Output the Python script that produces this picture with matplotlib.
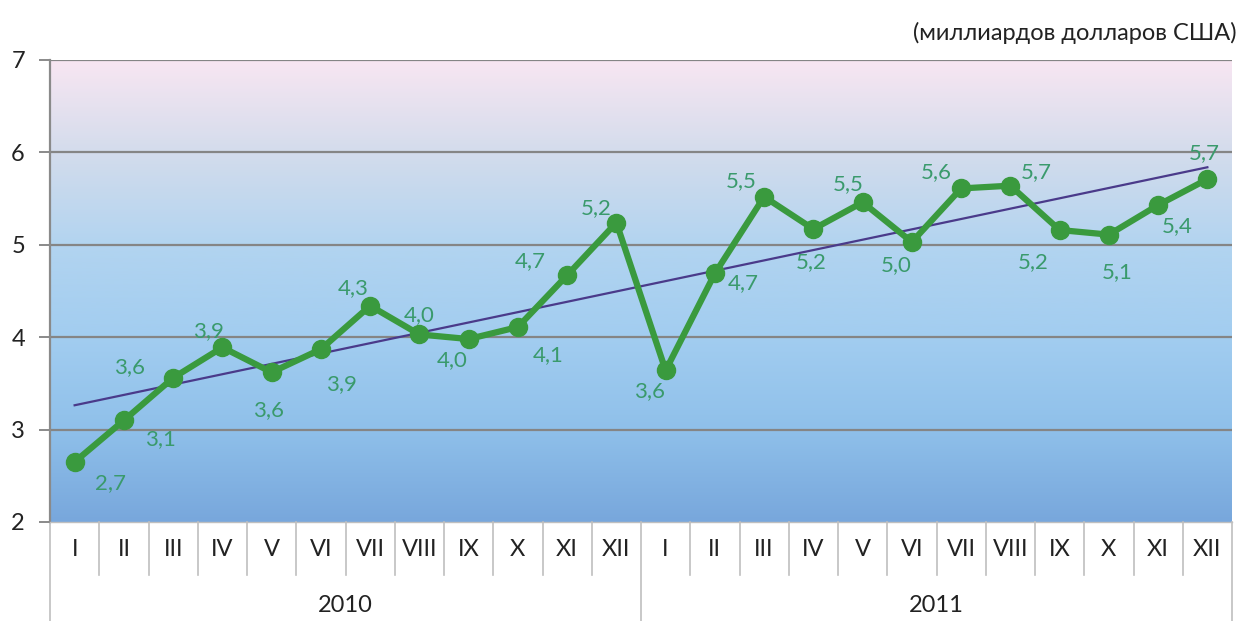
import numpy as np
import matplotlib
matplotlib.use("Agg")
import matplotlib.pyplot as plt
from matplotlib.colors import LinearSegmentedColormap

plt.rcParams['font.family'] = ['Lato', 'DejaVu Sans']

months = ["I", "II", "III", "IV", "V", "VI", "VII", "VIII", "IX", "X", "XI", "XII"]
years = ["2010", "2011"]
values = [2.65, 3.10, 3.56, 3.89, 3.62, 3.87, 4.34, 4.03, 3.98, 4.11, 4.67, 5.24,
          3.64, 4.69, 5.52, 5.17, 5.46, 5.03, 5.61, 5.64, 5.16, 5.11, 5.43, 5.71]
labels = ["2,7", "3,1", "3,6", "3,9", "3,6", "3,9", "4,3", "4,0", "4,0", "4,1", "4,7", "5,2",
          "3,6", "4,7", "5,5", "5,2", "5,5", "5,0", "5,6", "5,7", "5,2", "5,1", "5,4", "5,7"]
yticks = [2, 3, 4, 5, 6, 7]
unit_text = "(миллиардов долларов США)"

# label offsets in pixels (dx right, dy down)
offsets = [(36, 21), (37, 19), (-44, -11), (-14, -16), (-3, 38), (21, 35),
           (-17, -18), (0, -19), (-16, 21), (30, 28), (-37, -14), (-20, -15),
           (-16, 21), (28, 10), (-23, -16), (-2, 33), (-14, -18), (-16, 23),
           (-25, -16), (26, -14), (-26, 32), (8, 37), (19, 21), (-3, -26)]

W, H = 1243, 621
fig = plt.figure(figsize=(W / 100, H / 100), dpi=100)
L, R, T, B = 50, 1232, 60, 522
ax = fig.add_axes([L / W, 1 - B / H, (R - L) / W, (B - T) / H])

n = len(values)
x = np.arange(n)
ax.set_xlim(-0.5, n - 0.5)
ax.set_ylim(2, 7)

# gradient background (row 0 = top)
cmap = LinearSegmentedColormap.from_list("bg", [
    (0.0, "#f8e6f2"), (0.2, "#d3dcec"), (0.4, "#b2d4f0"),
    (0.6, "#a2cdf0"), (0.8, "#8fc0ea"), (1.0, "#78a7dc")])
grad = np.linspace(0, 1, 256).reshape(-1, 1)
ax.imshow(grad, cmap=cmap, aspect='auto', extent=(-0.5, n - 0.5, 2, 7),
          origin='upper', zorder=0, interpolation='bicubic')

# gridlines
for yv in yticks[1:]:
    ax.axhline(yv, color="#858585", lw=1.6, zorder=1)

# trend line
coef = np.polyfit(x, values, 1)
ax.plot(x, np.polyval(coef, x), color="#4a3a8a", lw=1.6, zorder=2)

# data line
ax.plot(x, values, color="#3a9a3e", lw=4.5, marker='o', ms=13,
        markerfacecolor="#3a9a3e", markeredgecolor="#3a9a3e", zorder=3)

for xi, yv, lab, (dx, dy) in zip(x, values, labels, offsets):
    ax.annotate(lab, (xi, yv), xytext=(dx * 0.72, -dy * 0.72), textcoords='offset points',
                ha='center', va='center', fontsize=16, color="#3a9a6c", zorder=4)

# axes styling
for s in ['top', 'right']:
    ax.spines[s].set_visible(False)
ax.spines['left'].set_color("#8a8a8a")
ax.spines['left'].set_linewidth(1.6)
ax.spines['bottom'].set_color("#bfbfbf")
ax.spines['bottom'].set_linewidth(1.0)
ax.set_yticks(yticks)
ax.set_yticklabels([str(v) for v in yticks], fontsize=17, color="#222222")
ax.tick_params(axis='y', length=8, width=1.4, color="#8a8a8a", pad=10)
ax.set_xticks([])

# category axis
tr = ax.get_xaxis_transform()
h = B - T
for i in range(n + 1):
    xb = i - 0.5
    if i % 12 == 0:
        y_end = -(H - B) / h
    else:
        y_end = -(575 - B) / h
    ax.plot([xb, xb], [0, y_end], transform=tr, color="#bfbfbf", lw=1.2, clip_on=False)
for i in range(n):
    ax.text(i, -(550 - B) / h, months[i % 12], transform=tr, ha='center', va='center',
            fontsize=17, color="#222222")
for j, yr in enumerate(years):
    ax.text(j * 12 + 5.5, -(606 - B) / h, yr, transform=tr, ha='center', va='center',
            fontsize=17, color="#222222")

fig.text(1237 / W, 1 - 33 / H, unit_text, ha='right', va='center', fontsize=17, color="#222222")

fig.savefig("out.png", dpi=100)
